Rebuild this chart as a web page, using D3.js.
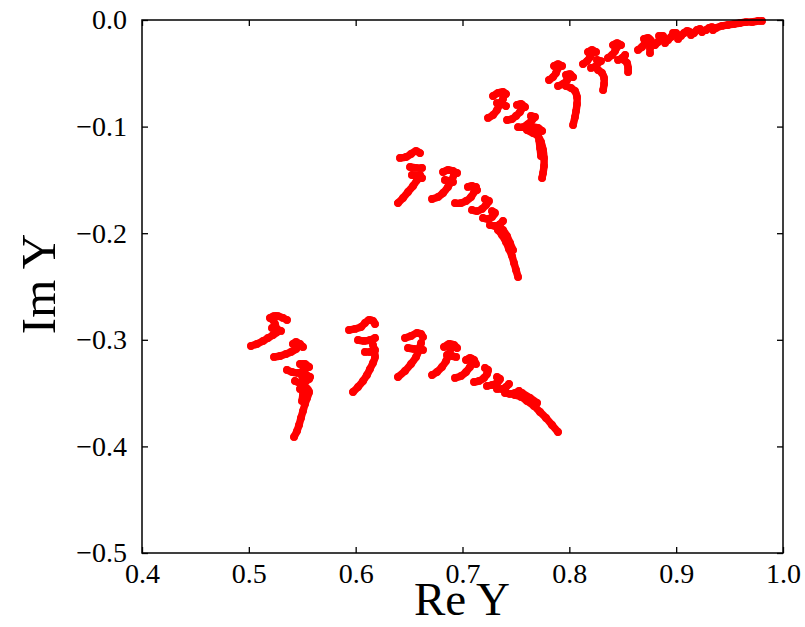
<!DOCTYPE html>
<html>
<head>
<meta charset="utf-8">
<script src="https://cdn.jsdelivr.net/npm/d3@7"></script>
<style>
  body { margin: 0; background: #fff; }
  svg text { font-family: "Liberation Serif", "Times New Roman", serif; fill: #000; }
</style>
</head>
<body>
<div id="chart"></div>
<script>
// tick values
const xTicks = [0.4, 0.5, 0.6, 0.7, 0.8, 0.9, 1.0];
const yTicks = [-0.5, -0.4, -0.3, -0.2, -0.1, 0.0];

// each chain is a list of hooks, each hook a list of [Re Y, Im Y] points
const chainB = [
  [[0.5020, -0.3058], [0.5076, -0.3039], [0.5133, -0.3011], [0.5179, -0.2983], [0.5226, -0.2955], [0.5264, -0.2927], [0.5245, -0.2852], [0.5226, -0.2814]],
  [[0.5198, -0.2795], [0.5236, -0.2777], [0.5273, -0.2777], [0.5320, -0.2795], [0.5357, -0.2814]],
  [[0.5217, -0.2889], [0.5254, -0.2898], [0.5301, -0.2917]],
  [[0.5236, -0.3161], [0.5292, -0.3152], [0.5348, -0.3133], [0.5395, -0.3114], [0.5442, -0.3086], [0.5470, -0.3058]],
  [[0.5413, -0.3039], [0.5442, -0.3020], [0.5479, -0.3039], [0.5507, -0.3067]],
  [[0.5357, -0.3283], [0.5404, -0.3302], [0.5460, -0.3311], [0.5507, -0.3292], [0.5536, -0.3264], [0.5507, -0.3236]],
  [[0.5479, -0.3227], [0.5526, -0.3227], [0.5564, -0.3255]],
  [[0.5432, -0.3386], [0.5479, -0.3405], [0.5526, -0.3396], [0.5564, -0.3367]],
  [[0.5498, -0.3339], [0.5536, -0.3330], [0.5573, -0.3349]],
  [[0.5479, -0.3461], [0.5536, -0.3452], [0.5564, -0.3489], [0.5545, -0.3546], [0.5526, -0.3602], [0.5507, -0.3668], [0.5488, -0.3733], [0.5470, -0.3799], [0.5451, -0.3855], [0.5423, -0.3911]],
  [[0.5507, -0.3508], [0.5498, -0.3574]]
];

const chainC = [
  [[0.5938, -0.2908], [0.5994, -0.2898], [0.6050, -0.2880], [0.6087, -0.2842], [0.6125, -0.2814], [0.6162, -0.2823], [0.6181, -0.2852]],
  [[0.6022, -0.3002], [0.6078, -0.3011], [0.6134, -0.3002], [0.6181, -0.2983]],
  [[0.6087, -0.3114], [0.6134, -0.3114], [0.6181, -0.3095]],
  [[0.6162, -0.3049], [0.6181, -0.3161], [0.6162, -0.3217], [0.6134, -0.3274], [0.6106, -0.3330], [0.6069, -0.3386], [0.6022, -0.3442], [0.5975, -0.3489]]
];

const chainD = [
  [[0.6462, -0.2983], [0.6518, -0.2964], [0.6574, -0.2936], [0.6612, -0.2945], [0.6630, -0.2974]],
  [[0.6490, -0.3077], [0.6546, -0.3086], [0.6593, -0.3086], [0.6630, -0.3095]],
  [[0.6612, -0.3030], [0.6593, -0.3095], [0.6565, -0.3161], [0.6518, -0.3227], [0.6462, -0.3292], [0.6396, -0.3349]],
  [[0.6715, -0.3330], [0.6761, -0.3302], [0.6808, -0.3255], [0.6846, -0.3199], [0.6874, -0.3133], [0.6893, -0.3077]],
  [[0.6827, -0.3067], [0.6874, -0.3039], [0.6921, -0.3049], [0.6949, -0.3077]],
  [[0.6855, -0.3142], [0.6902, -0.3152], [0.6940, -0.3161]],
  [[0.6930, -0.3358], [0.6986, -0.3339], [0.7033, -0.3302], [0.7070, -0.3255], [0.7098, -0.3208]],
  [[0.7033, -0.3189], [0.7070, -0.3170], [0.7108, -0.3189], [0.7126, -0.3227]],
  [[0.7108, -0.3396], [0.7154, -0.3386], [0.7201, -0.3358], [0.7229, -0.3321], [0.7239, -0.3283], [0.7211, -0.3264]],
  [[0.7229, -0.3433], [0.7276, -0.3424], [0.7323, -0.3405], [0.7351, -0.3367], [0.7323, -0.3349]],
  [[0.7323, -0.3461], [0.7370, -0.3461], [0.7407, -0.3442], [0.7435, -0.3414]],
  [[0.7398, -0.3499], [0.7445, -0.3508], [0.7491, -0.3499], [0.7529, -0.3480]],
  [[0.7491, -0.3518], [0.7548, -0.3536], [0.7604, -0.3574], [0.7669, -0.3621], [0.7726, -0.3677], [0.7782, -0.3733], [0.7838, -0.3799], [0.7894, -0.3865]],
  [[0.7557, -0.3499], [0.7632, -0.3546], [0.7698, -0.3592]]
];

const chainE = [
  [[0.6415, -0.1294], [0.6471, -0.1285], [0.6518, -0.1257], [0.6565, -0.1229], [0.6602, -0.1248]],
  [[0.6509, -0.1379], [0.6565, -0.1388], [0.6621, -0.1388]],
  [[0.6527, -0.1454], [0.6574, -0.1463], [0.6621, -0.1482]],
  [[0.6396, -0.1717], [0.6443, -0.1670], [0.6490, -0.1613], [0.6537, -0.1557], [0.6574, -0.1501], [0.6602, -0.1454]],
  [[0.6715, -0.1679], [0.6771, -0.1660], [0.6818, -0.1623], [0.6864, -0.1566], [0.6902, -0.1501], [0.6921, -0.1445]],
  [[0.6818, -0.1426], [0.6864, -0.1407], [0.6911, -0.1416], [0.6949, -0.1435]],
  [[0.6836, -0.1501], [0.6874, -0.1510], [0.6911, -0.1520]],
  [[0.6930, -0.1717], [0.6986, -0.1717], [0.7033, -0.1698], [0.7080, -0.1660], [0.7108, -0.1613], [0.7126, -0.1566]],
  [[0.7051, -0.1566], [0.7089, -0.1557], [0.7136, -0.1595]],
  [[0.7089, -0.1782], [0.7136, -0.1792], [0.7182, -0.1773], [0.7220, -0.1735], [0.7248, -0.1698], [0.7211, -0.1679]],
  [[0.7192, -0.1857], [0.7239, -0.1867], [0.7276, -0.1848], [0.7304, -0.1810], [0.7276, -0.1792]],
  [[0.7257, -0.1923], [0.7304, -0.1932], [0.7351, -0.1914], [0.7379, -0.1885]],
  [[0.7332, -0.1970], [0.7370, -0.2017], [0.7407, -0.2082], [0.7435, -0.2148], [0.7463, -0.2214], [0.7482, -0.2279], [0.7501, -0.2345], [0.7520, -0.2411]],
  [[0.7379, -0.1970], [0.7416, -0.2026], [0.7445, -0.2092], [0.7473, -0.2158]]
];

const chainF = [
  [[0.7239, -0.0919], [0.7286, -0.0891], [0.7323, -0.0844], [0.7351, -0.0788], [0.7379, -0.0741]],
  [[0.7286, -0.0713], [0.7332, -0.0685], [0.7379, -0.0675], [0.7407, -0.0694]],
  [[0.7323, -0.0779], [0.7370, -0.0788], [0.7407, -0.0807]],
  [[0.7417, -0.0938], [0.7463, -0.0929], [0.7501, -0.0900], [0.7538, -0.0863], [0.7567, -0.0816]],
  [[0.7510, -0.0797], [0.7548, -0.0788], [0.7585, -0.0816]],
  [[0.7520, -0.1004], [0.7567, -0.1004], [0.7613, -0.0976], [0.7651, -0.0938], [0.7679, -0.0910], [0.7641, -0.0900]],
  [[0.7660, -0.1004], [0.7707, -0.1013], [0.7745, -0.1041]],
  [[0.7604, -0.1032], [0.7660, -0.1060], [0.7707, -0.1088], [0.7735, -0.1144], [0.7754, -0.1219], [0.7763, -0.1294], [0.7763, -0.1369], [0.7754, -0.1435], [0.7745, -0.1482]],
  [[0.7717, -0.1126], [0.7726, -0.1201], [0.7735, -0.1276]]
];

const chainG = [
  [[0.7810, -0.0563], [0.7847, -0.0535], [0.7875, -0.0497], [0.7894, -0.0450]],
  [[0.7857, -0.0431], [0.7894, -0.0413], [0.7932, -0.0431]],
  [[0.7894, -0.0619], [0.7941, -0.0600], [0.7979, -0.0563], [0.7997, -0.0525]],
  [[0.7969, -0.0516], [0.8007, -0.0507], [0.8035, -0.0535]],
  [[0.7969, -0.0619], [0.8016, -0.0638], [0.8053, -0.0666], [0.8072, -0.0722], [0.8072, -0.0788], [0.8063, -0.0854], [0.8053, -0.0910], [0.8035, -0.0985]],
  [[0.8128, -0.0413], [0.8166, -0.0385], [0.8194, -0.0347], [0.8212, -0.0310]],
  [[0.8175, -0.0300], [0.8212, -0.0281], [0.8250, -0.0300]],
  [[0.8203, -0.0450], [0.8250, -0.0431], [0.8278, -0.0394]],
  [[0.8259, -0.0375], [0.8297, -0.0385]],
  [[0.8269, -0.0469], [0.8306, -0.0497], [0.8325, -0.0544], [0.8325, -0.0600], [0.8316, -0.0657]],
  [[0.8362, -0.0356], [0.8400, -0.0328], [0.8428, -0.0291], [0.8447, -0.0253]],
  [[0.8409, -0.0235], [0.8447, -0.0216], [0.8484, -0.0235]],
  [[0.8456, -0.0375], [0.8494, -0.0356], [0.8522, -0.0328]],
  [[0.8512, -0.0375], [0.8540, -0.0403], [0.8550, -0.0450], [0.8550, -0.0488]],
  [[0.8643, -0.0281], [0.8680, -0.0253], [0.8709, -0.0216], [0.8727, -0.0188]],
  [[0.8699, -0.0178], [0.8737, -0.0169], [0.8765, -0.0197], [0.8755, -0.0225], [0.8755, -0.0263], [0.8755, -0.0310]],
  [[0.8802, -0.0235], [0.8830, -0.0206], [0.8858, -0.0169]],
  [[0.8840, -0.0150], [0.8877, -0.0150], [0.8886, -0.0178], [0.8896, -0.0216]],
  [[0.8924, -0.0188], [0.8952, -0.0159], [0.8980, -0.0131]],
  [[0.8971, -0.0122], [0.8999, -0.0122], [0.9018, -0.0150], [0.9018, -0.0178]],
  [[0.9045, -0.0150], [0.9074, -0.0122], [0.9102, -0.0103], [0.9130, -0.0113], [0.9139, -0.0141]],
  [[0.9167, -0.0122], [0.9195, -0.0094], [0.9223, -0.0084], [0.9242, -0.0113]],
  [[0.9280, -0.0094], [0.9307, -0.0075], [0.9336, -0.0066], [0.9345, -0.0094]],
  [[0.9373, -0.0075], [0.9429, -0.0056], [0.9485, -0.0047], [0.9542, -0.0038], [0.9598, -0.0028], [0.9654, -0.0019], [0.9710, -0.0019], [0.9766, -0.0009], [0.9803, -0.0009]]
];

const chains = [chainB, chainC, chainD, chainE, chainF, chainG];

const W = 805, H = 627;
const mLeft = 142, mRight = 783, mTop = 20, mBottom = 553;

const svg = d3.select("#chart").append("svg")
  .attr("width", W)
  .attr("height", H);

const x = d3.scaleLinear().domain([0.4, 1.0]).range([mLeft, mRight]);
const y = d3.scaleLinear().domain([-0.5, 0.0]).range([mBottom, mTop]);
const fmt = d3.format(".1f");

// data
const line = d3.line()
  .x(d => x(d[0]))
  .y(d => y(d[1]))
  .curve(d3.curveCatmullRom);

const marks = svg.append("g");
chains.forEach(chain => {
  chain.forEach(hook => {
    marks.append("path")
      .attr("d", line(hook))
      .attr("fill", "none")
      .attr("stroke", "#ff0000")
      .attr("stroke-width", 7.5)
      .attr("stroke-linecap", "round")
      .attr("stroke-linejoin", "round");
    marks.selectAll(null)
      .data(hook)
      .enter()
      .append("circle")
      .attr("cx", d => x(d[0]))
      .attr("cy", d => y(d[1]))
      .attr("r", 3.9)
      .attr("fill", "#ff0000");
  });
});

// axes, ticks pointing inward
svg.append("g")
  .attr("transform", "translate(0," + mBottom + ")")
  .call(d3.axisBottom(x).tickValues(xTicks).tickFormat(fmt).tickSizeInner(-6).tickSizeOuter(0).tickPadding(10));
svg.append("g")
  .attr("transform", "translate(0," + mTop + ")")
  .call(d3.axisTop(x).tickValues(xTicks).tickFormat("").tickSizeInner(-6).tickSizeOuter(0));
svg.append("g")
  .attr("transform", "translate(" + mLeft + ",0)")
  .call(d3.axisLeft(y).tickValues(yTicks).tickFormat(fmt).tickSizeInner(-6).tickSizeOuter(0).tickPadding(15));
svg.append("g")
  .attr("transform", "translate(" + mRight + ",0)")
  .call(d3.axisRight(y).tickValues(yTicks).tickFormat("").tickSizeInner(-6).tickSizeOuter(0));

svg.selectAll(".domain").remove();
svg.selectAll(".tick line").attr("stroke", "#000").attr("stroke-width", 1.3);
svg.selectAll(".tick text")
  .style("font-size", "28px")
  .style("font-family", "'Liberation Serif', serif");

svg.append("rect")
  .attr("x", mLeft)
  .attr("y", mTop)
  .attr("width", mRight - mLeft)
  .attr("height", mBottom - mTop)
  .attr("fill", "none")
  .attr("stroke", "#000")
  .attr("stroke-width", 1.5);

// axis titles
svg.append("text")
  .attr("x", 462)
  .attr("y", 615)
  .attr("text-anchor", "middle")
  .style("font-size", "47px")
  .text("Re Y");

svg.append("text")
  .attr("transform", "translate(55,284) rotate(-90)")
  .attr("text-anchor", "middle")
  .style("font-size", "49px")
  .text("Im Y");
</script>
</body>
</html>
